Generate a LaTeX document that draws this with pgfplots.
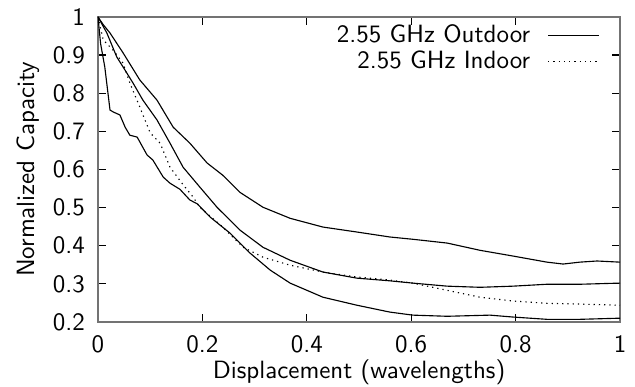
\documentclass[border=0pt]{standalone}
\usepackage{pgfplots}
\pgfplotsset{compat=1.18}
\renewcommand{\familydefault}{\sfdefault}
\begin{document}
\begin{tikzpicture}
\begin{axis}[
  scale only axis,
  width=208.8pt, height=122pt,
  xmin=0, xmax=1, ymin=0.2, ymax=1,
  xtick={0,0.2,0.4,0.6,0.8,1},
  ytick={0.2,0.3,0.4,0.5,0.6,0.7,0.8,0.9,1},
  tick align=inside,
  major tick length=3.2pt,
  tick style={black, line width=0.5pt},
  /pgf/number format/assume math mode=true,
  tick label style={font=\sffamily},
  yticklabel style={xshift=-1.7pt},
  xticklabel style={yshift=-2pt},
  xlabel={Displacement (wavelengths)},
  ylabel={Normalized Capacity},
  every axis x label/.style={at={([yshift=-22.5pt]axis description cs:0.5,0)}, anchor=base},
  every axis y label/.style={at={([xshift=-32.8pt]axis description cs:0,0.5)}, rotate=90, anchor=north, inner sep=0pt},
  axis line style={line width=0.6pt, black!55},
  legend style={draw=none, fill=none, at={(1,1)}, anchor=north east,
    xshift=-6.8pt, yshift=0pt,
    legend cell align=right, row sep=-2.2pt, inner sep=1pt},
  legend plot pos=right,
  legend image code/.code={\path (0pt,0pt); \draw[#1] (5pt,0pt) -- (25.5pt,0pt);},
]
\addplot[black, line width=0.45pt] coordinates {
(0,1) (0.01,0.98) (0.023,0.958) (0.048,0.906) (0.080,0.835) (0.113,0.782)
(0.144,0.711) (0.176,0.669) (0.209,0.617) (0.239,0.585) (0.272,0.540)
(0.316,0.501) (0.368,0.472) (0.431,0.449) (0.496,0.436) (0.559,0.423)
(0.603,0.417) (0.669,0.407) (0.732,0.388) (0.795,0.373) (0.860,0.357)
(0.891,0.352) (0.923,0.357) (0.956,0.360) (1.0,0.357)};
\addlegendentry{2.55 GHz Outdoor}
\addplot[black, line width=0.45pt, dash pattern=on 0.5pt off 1.6pt] coordinates {
(0,1) (0.01,0.94) (0.029,0.913) (0.048,0.879) (0.061,0.827) (0.080,0.764)
(0.100,0.696) (0.119,0.669) (0.138,0.606) (0.163,0.560) (0.182,0.528)
(0.195,0.501) (0.239,0.449) (0.278,0.396) (0.316,0.370) (0.368,0.349)
(0.431,0.331) (0.496,0.318) (0.559,0.310) (0.603,0.302) (0.669,0.283)
(0.732,0.265) (0.795,0.255) (0.860,0.249) (0.923,0.247) (1.0,0.244)};
\addlegendentry{2.55 GHz Indoor}
\addplot[black, line width=0.45pt, forget plot] coordinates {
(0,1) (0.017,0.958) (0.036,0.895) (0.048,0.869) (0.067,0.827) (0.086,0.782)
(0.113,0.730) (0.138,0.669) (0.163,0.606) (0.195,0.554) (0.228,0.501)
(0.272,0.441) (0.316,0.396) (0.368,0.362) (0.431,0.331) (0.496,0.315)
(0.559,0.308) (0.603,0.302) (0.669,0.294) (0.732,0.291) (0.795,0.294)
(0.860,0.299) (0.923,0.299) (1.0,0.302)};
\addplot[black, line width=0.45pt, forget plot] coordinates {
(0,1) (0.005,0.93) (0.013,0.869) (0.023,0.756) (0.029,0.751) (0.042,0.743)
(0.052,0.711) (0.061,0.690) (0.075,0.685) (0.094,0.638) (0.105,0.625)
(0.125,0.580) (0.138,0.564) (0.157,0.548) (0.176,0.520) (0.190,0.510)
(0.215,0.475) (0.253,0.433) (0.291,0.381) (0.330,0.336) (0.368,0.302)
(0.431,0.265) (0.496,0.244) (0.559,0.226) (0.603,0.218) (0.669,0.215)
(0.751,0.218) (0.795,0.213) (0.860,0.207) (0.923,0.207) (1.0,0.210)};
\end{axis}
\pgfresetboundingbox
\path ([xshift=-39.2pt,yshift=-26pt]current axis.south west) rectangle ([xshift=6pt,yshift=6.8pt]current axis.north east);
\end{tikzpicture}
\end{document}
